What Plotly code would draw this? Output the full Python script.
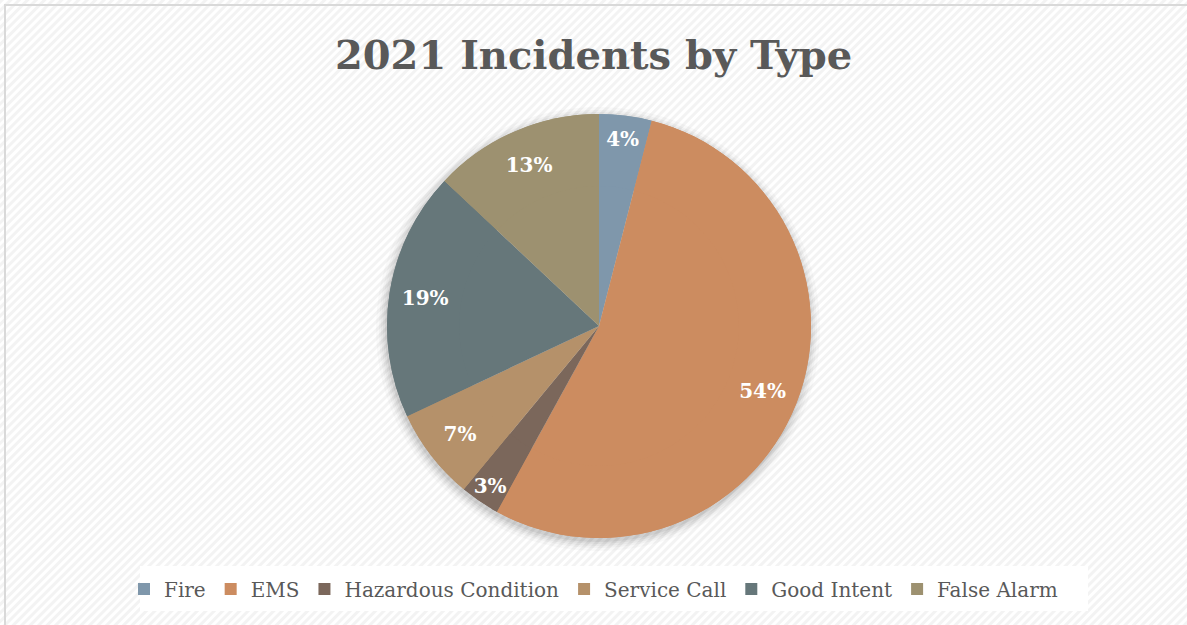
import plotly.graph_objects as go
import base64

categories = ["Fire", "EMS", "Hazardous Condition", "Service Call", "Good Intent", "False Alarm"]
values = [4, 54, 3, 7, 19, 13]
colors = ["#7f97ab", "#cc8c60", "#7b675b", "#b5916a", "#66777a", "#9d9170"]
title_text = "2021 Incidents by Type"

W, H = 1187, 625
cx, cy, R = 599, 326, 212
dom = dict(x=[(cx - R) / W, (cx + R) / W], y=[(H - cy - R) / H, (H - cy + R) / H])

# diagonal hatch background
svg = ('<svg xmlns="http://www.w3.org/2000/svg" width="1187" height="625">'
       '<defs><pattern id="p" width="6" height="6" patternUnits="userSpaceOnUse" patternTransform="rotate(-45)">'
       '<rect width="6" height="6" fill="#ffffff"/><rect width="6" height="3" fill="#f3f3f3"/></pattern></defs>'
       '<rect width="1187" height="625" fill="url(#p)"/></svg>')
src = "data:image/svg+xml;base64," + base64.b64encode(svg.encode()).decode()

fig = go.Figure()
# full pie (no text)
fig.add_trace(go.Pie(
    labels=categories, values=values, sort=False, direction="clockwise", rotation=0,
    marker=dict(colors=colors, line=dict(width=0)),
    textinfo="none", domain=dom, hoverinfo="label+percent", showlegend=True,
))
# ring overlay carrying the labels further out
fig.add_trace(go.Pie(
    labels=categories, values=values, sort=False, direction="clockwise", rotation=0, hole=0.66,
    marker=dict(colors=colors, line=dict(width=0)),
    texttemplate="%{percent:.0%}", textposition="inside", insidetextorientation="horizontal",
    textfont=dict(family="DejaVu Serif", size=20, color="white", weight="bold"),
    domain=dom, hoverinfo="label+percent", showlegend=False,
))

shapes = []
shapes.append(dict(type="rect", xref="paper", yref="paper", x0=5 / W, x1=1.01, y0=-0.01, y1=1 - 5 / H,
                   line=dict(color="#d9d9d9", width=2), fillcolor="rgba(0,0,0,0)", layer="below"))
for dr, op in [(10, 0.025), (7, 0.03), (5, 0.035), (3, 0.045), (1, 0.06)]:
    r = R + dr
    ox, oy = -1, 3
    shapes.append(dict(type="circle", xref="paper", yref="paper",
                       x0=(cx + ox - r) / W, x1=(cx + ox + r) / W,
                       y0=(H - cy - oy - r) / H, y1=(H - cy - oy + r) / H,
                       fillcolor=f"rgba(0,0,0,{op})", line=dict(width=0), layer="below"))
shapes.append(dict(type="rect", xref="paper", yref="paper", x0=140 / W, x1=1088 / W,
                   y0=1 - 611 / H, y1=1 - 566 / H, fillcolor="white", line=dict(width=0), layer="below"))

fig.update_layout(
    width=W, height=H, margin=dict(l=0, r=0, t=0, b=0),
    paper_bgcolor="white",
    images=[dict(source=src, xref="paper", yref="paper", x=0, y=1, sizex=1, sizey=1,
                 sizing="stretch", layer="below")],
    shapes=shapes,
    uniformtext=dict(minsize=20, mode="show"),
    title=dict(text=title_text, x=0.5, xanchor="center", y=1 - 55 / H, yanchor="middle",
               font=dict(family="DejaVu Serif", size=40, color="#595959", weight="bold")),
    legend=dict(orientation="h", x=0.5, xanchor="center", y=1 - 589 / H, yanchor="middle",
                font=dict(family="DejaVu Serif", size=20, color="#595959"),
                bgcolor="rgba(0,0,0,0)", itemwidth=30, traceorder="normal"),
)
fig.write_html("out.html")
